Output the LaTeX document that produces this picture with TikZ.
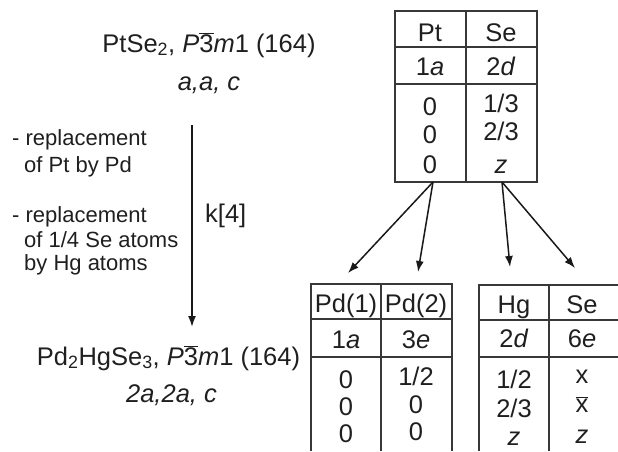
\documentclass[tikz,border=0pt]{standalone}
\usepackage{fontspec}
\setmainfont{Liberation Sans}
\usetikzlibrary{arrows.meta}
\newcommand\bthree{$\overline{\mbox{3}}$}
\newcommand\bx{$\overline{\mbox{x}}$}
\begin{document}
\begin{tikzpicture}[x=1pt,y=-1pt,
  txt/.style={inner sep=0pt, anchor=base, text=black!88, font=\fontsize{25.5}{30}\selectfont},
  lbl/.style={inner sep=0pt, anchor=base west, text=black!88, font=\fontsize{22}{26}\selectfont},
  grid/.style={line width=1.8pt, draw=black!78},
  arr/.style={line width=1.5pt, draw=black!90, -{Latex[length=11pt,width=8pt]}}]
\useasboundingbox (0,0) rectangle (618,451);
% left texts
\node[txt] (f1) at (209,52) {PtSe\textsubscript{2}, \textit{P}\bthree\textit{m}1 (164)};
\node[txt] (c1) at (209,90) {\textit{a,a, c}};
\node[txt] (f2) at (168.5,365) {Pd\textsubscript{2}HgSe\textsubscript{3}, \textit{P}\bthree\textit{m}1 (164)};
\node[txt] (c2) at (171.5,402) {\textit{2a,2a, c}};
\node[lbl] (l1) at (12,145) {- replacement};
\node[lbl] (l2) at (24,172) {of Pt by Pd};
\node[lbl] (l3) at (12,222) {- replacement};
\node[lbl] (l4) at (24,247) {of 1/4 Se atoms};
\node[lbl] (l5) at (24,270) {by Hg atoms};
\node[lbl, font=\fontsize{25.5}{30}\selectfont] (k4) at (205,222) {k[4]};
\coordinate (aS) at (192,125);
\coordinate (aE) at (192,327);
\draw[arr, line width=1.8pt] (aS) -- (aE);
% top table
\draw[grid] (395,11) rectangle (537,182);
\draw[grid] (466,11) -- (466,182);
\draw[grid] (395,47) -- (537,47);
\draw[grid] (395,84) -- (537,84);
\node[txt] (tPt) at (430,41) {Pt};
\node[txt] (tSe) at (501,41) {Se};
\node[txt] (tw1) at (430,75) {1\textit{a}};
\node[txt] (tw2) at (501,75) {2\textit{d}};
\node[txt] (ta1) at (430,115) {0};
\node[txt] (ta2) at (430,143) {0};
\node[txt] (ta3) at (430,173) {0};
\node[txt] (tb1) at (501,112) {1/3};
\node[txt] (tb2) at (501,140) {2/3};
\node[txt] (tb3) at (501,173) {\textit{z}};
% bottom left table
\draw[grid] (311,451) -- (311,284) -- (452,284) -- (452,451);
\draw[grid] (381,284) -- (381,451);
\draw[grid] (311,319) -- (452,319);
\draw[grid] (311,357) -- (452,357);
\node[txt] (lP1) at (346,312) {Pd(1)};
\node[txt] (lP2) at (416,312) {Pd(2)};
\node[txt] (lw1) at (346,348) {1\textit{a}};
\node[txt] (lw2) at (416,348) {3\textit{e}};
\node[txt] (la1) at (346,388) {0};
\node[txt] (la2) at (346,415) {0};
\node[txt] (la3) at (346,442) {0};
\node[txt] (lb1) at (416,385) {1/2};
\node[txt] (lb2) at (416,413) {0};
\node[txt] (lb3) at (416,440) {0};
% bottom right table
\draw[grid] (479,451) -- (479,285) -- (618,285);
\draw[grid] (549,285) -- (549,451);
\draw[grid] (479,320) -- (618,320);
\draw[grid] (479,357) -- (618,357);
\node[txt] (rHg) at (514,313) {Hg};
\node[txt] (rSe) at (582,313) {Se};
\node[txt] (rw1) at (514,347) {2\textit{d}};
\node[txt] (rw2) at (582,347) {6\textit{e}};
\node[txt] (ra1) at (514,388) {1/2};
\node[txt] (ra2) at (514,417) {2/3};
\node[txt] (ra3) at (514,445) {\textit{z}};
\node[txt] (rb1) at (582,383) {x};
\node[txt] (rb2) at (582,412) {\bx};
\node[txt] (rb3) at (582,443) {\textit{z}};
% arrows
\coordinate (s1) at (433,182);
\coordinate (s2) at (502,182);
\coordinate (e1) at (348,273);
\coordinate (e2) at (418,272);
\coordinate (e3) at (510,267);
\coordinate (e4) at (575,268);
\draw[arr] (s1) -- (e1);
\draw[arr] (s1) -- (e2);
\draw[arr] (s2) -- (e3);
\draw[arr] (s2) -- (e4);
\end{tikzpicture}
\end{document}
